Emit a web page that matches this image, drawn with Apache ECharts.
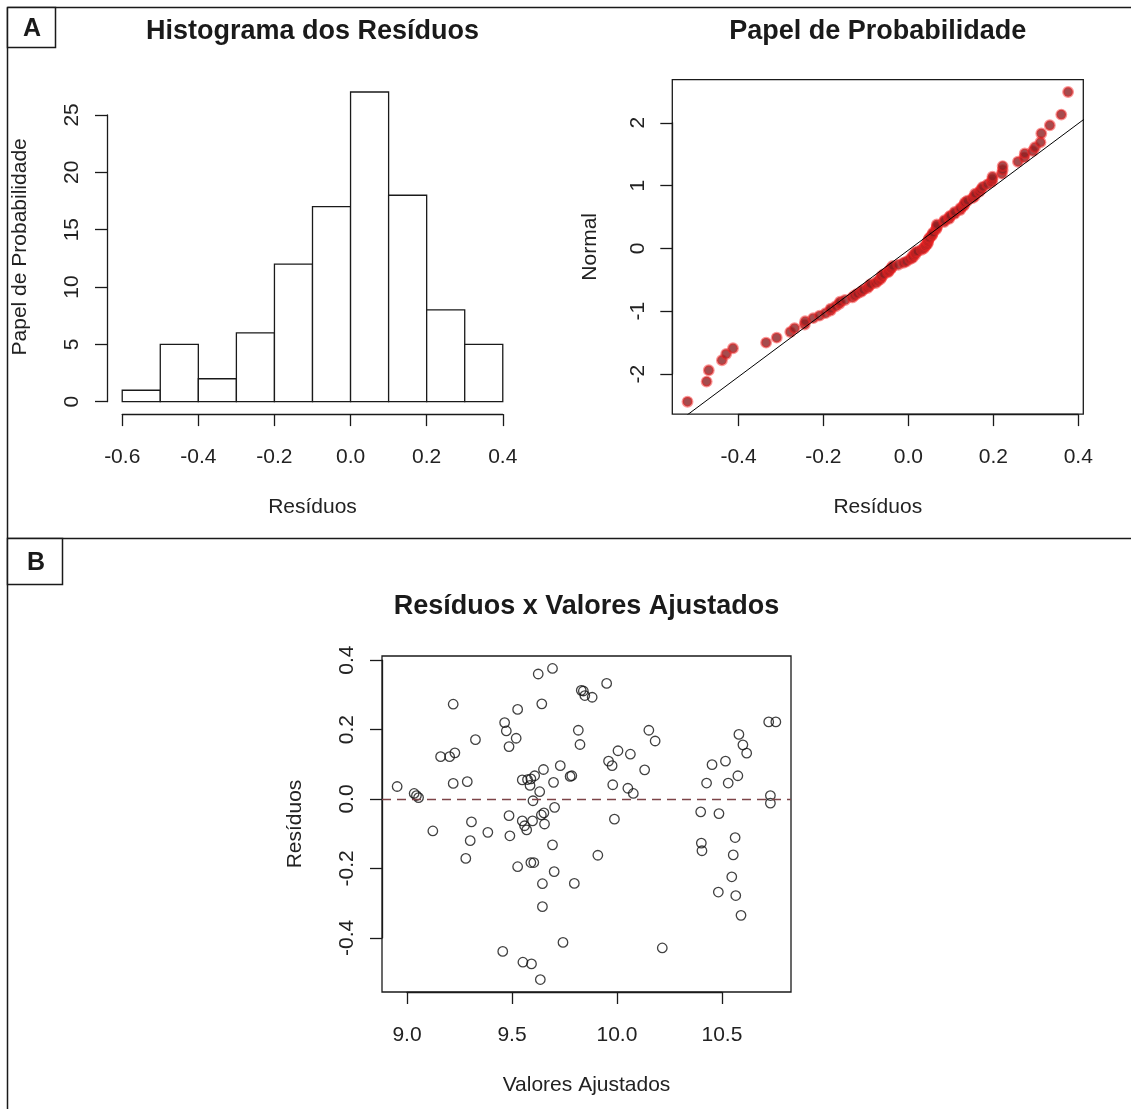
<!DOCTYPE html>
<html>
<head>
<meta charset="utf-8">
<title>Diagnóstico dos Resíduos</title>
<script src="https://cdn.jsdelivr.net/npm/echarts@6/dist/echarts.min.js"></script>
<style>
  html, body { margin: 0; padding: 0; background: #ffffff; }
  #chart { width: 1131px; height: 1109px; }
</style>
</head>
<body>
<div id="chart"></div>
<script>
// ---------------- data ----------------
// Histogram of residuals: bin edges and counts
const histBreaks = [-0.6, -0.5, -0.4, -0.3, -0.2, -0.1, 0.0, 0.1, 0.2, 0.3, 0.4];
const histCounts = [1, 5, 2, 6, 12, 17, 27, 18, 8, 5];

// Fitted values and residuals of the model (one pair per observation)
const fittedValues = [
  8.953, 9.034, 9.045, 9.055, 9.123, 9.160, 9.203, 9.228, 9.220, 9.220,
  9.287, 9.307, 9.301, 9.280, 9.326, 9.385, 9.456, 9.465, 9.473, 9.486,
  9.486, 9.490, 9.520, 9.527, 9.527, 9.549, 9.574, 9.586, 9.600, 9.552,
  9.593, 9.590, 9.604, 9.590, 9.608, 9.625, 9.632, 9.635, 9.642, 9.645,
  9.645, 9.650, 9.693, 9.693, 9.698, 9.701, 9.703, 9.730, 9.743, 9.777,
  9.785, 9.797, 9.816, 9.824, 9.830, 9.840, 9.847, 9.882, 9.909, 9.951,
  9.960, 9.977, 9.980, 9.988, 10.005, 10.052, 10.064, 10.078, 10.132, 10.152,
  10.182, 10.216, 10.399, 10.402, 10.405, 10.427, 10.453, 10.483, 10.486, 10.517,
  10.530, 10.547, 10.554, 10.563, 10.566, 10.576, 10.581, 10.591, 10.600, 10.618,
  10.723, 10.757, 10.731, 10.731, 9.549, 9.560, 9.570, 9.598, 9.640, 9.652,
  9.655
];
const residuals = [
  0.036, 0.016, 0.010, 0.004, -0.092, 0.122, 0.122, 0.133, 0.273, 0.045,
  0.050, -0.066, -0.120, -0.171, 0.171, -0.096, -0.439, 0.220, 0.196, 0.151,
  -0.048, -0.106, 0.175, 0.258, -0.195, 0.055, 0.056, 0.039, -0.005, -0.470,
  -0.475, -0.183, -0.183, 0.058, 0.067, 0.360, 0.021, -0.520, 0.274, -0.244,
  -0.310, 0.085, 0.376, -0.132, 0.048, -0.209, -0.024, 0.096, -0.413, 0.065,
  0.067, -0.243, 0.198, 0.157, 0.313, 0.311, 0.298, 0.293, -0.162, 0.333,
  0.109, 0.096, 0.041, -0.058, 0.139, 0.031, 0.129, 0.016, 0.084, 0.198,
  0.167, -0.429, -0.037, -0.127, -0.149, 0.046, 0.099, -0.268, -0.042, 0.109,
  0.046, -0.224, -0.161, -0.111, -0.278, 0.067, 0.186, -0.335, 0.156, 0.132,
  0.222, 0.222, 0.010, -0.012, -0.063, -0.077, -0.089, -0.063, -0.046, -0.040,
  -0.072
];

// Normal scores paired with the residuals in increasing order (normal probability plot)
const normalScores = [
  -2.44, -2.12, -1.94, -1.78, -1.68, -1.59, -1.50, -1.42, -1.33, -1.27,
  -1.21, -1.16, -1.11, -1.07, -1.03, -0.99, -0.96, -0.92, -0.88, -0.85,
  -0.82, -0.78, -0.75, -0.72, -0.69, -0.66, -0.63, -0.60, -0.57, -0.55,
  -0.52, -0.49, -0.46, -0.44, -0.41, -0.38, -0.36, -0.33, -0.31, -0.28,
  -0.26, -0.23, -0.21,
  -0.17, -0.15, -0.12, -0.10, -0.07, -0.05, -0.02, 0.00, 0.03, 0.05,
  0.07, 0.10, 0.12, 0.15, 0.17, 0.20, 0.22, 0.25, 0.30, 0.33,
  0.35, 0.38, 0.42, 0.45, 0.47, 0.50, 0.52, 0.55, 0.58, 0.61,
  0.64, 0.67, 0.70, 0.73, 0.76, 0.80, 0.83, 0.87, 0.90, 0.94,
  0.98, 1.02, 1.06, 1.10, 1.14, 1.19, 1.25, 1.31, 1.38, 1.45,
  1.51, 1.55, 1.61, 1.69, 1.83, 1.96, 2.13, 2.49
];

// Reference line of the normal plot (two end points, clipped to the plot box)
const qqLineX = [-0.60, 0.45];
const qqLineY = [-3.05, 2.24];

// Axis ticks and their labels
const histXTicks = [-0.6, -0.4, -0.2, 0.0, 0.2, 0.4];
const histXLabels = ['-0.6', '-0.4', '-0.2', '0.0', '0.2', '0.4'];
const histYTicks = [0, 5, 10, 15, 20, 25];
const histYLabels = ['0', '5', '10', '15', '20', '25'];
const qqXTicks = [-0.4, -0.2, 0.0, 0.2, 0.4];
const qqXLabels = ['-0.4', '-0.2', '0.0', '0.2', '0.4'];
const qqYTicks = [-2, -1, 0, 1, 2];
const qqYLabels = ['-2', '-1', '0', '1', '2'];
const fitXTicks = [9.0, 9.5, 10.0, 10.5];
const fitXLabels = ['9.0', '9.5', '10.0', '10.5'];
const fitYTicks = [-0.4, -0.2, 0.0, 0.2, 0.4];
const fitYLabels = ['-0.4', '-0.2', '0.0', '0.2', '0.4'];

// ---------------- layout & style ----------------
const FONT = '"Liberation Sans", Arial, Helvetica, sans-serif';
const INK = '#1a1a1a';
const TXT = '#222222';
const AXIS_FS = 21;
const TITLE_FS = 27;

const rectHist = { left: 107, top: 79.6, width: 411, height: 334.5 };
const rectQQ   = { left: 672.3, top: 79.6, width: 411, height: 334.5 };
const rectFit  = { left: 382, top: 656, width: 409, height: 336 };

// Default R-style axis range: data range widened by 4% on each side
function rRange(vals) {
  const lo = Math.min(...vals), hi = Math.max(...vals);
  const d = (hi - lo) * 0.04;
  return [lo - d, hi + d];
}
function xPx(rect, r, v) { return rect.left + (v - r[0]) / (r[1] - r[0]) * rect.width; }
function yPx(rect, r, v) { return rect.top + rect.height - (v - r[0]) / (r[1] - r[0]) * rect.height; }
function tickFormatter(ticks, labels) {
  return function (v) {
    let best = 0;
    for (let i = 1; i < ticks.length; i++) {
      if (Math.abs(ticks[i] - v) < Math.abs(ticks[best] - v)) best = i;
    }
    return labels[best];
  };
}

const option = {
  animation: false,
  backgroundColor: '#ffffff',
  grid: [], xAxis: [], yAxis: [], series: [], graphic: []
};

const hiddenAxis = (g) => ({ gridIndex: g, type: 'value', show: false, min: 0, max: 1 });
const nameStyle = { fontFamily: FONT, fontSize: AXIS_FS, color: TXT };
const tickLine = { show: true, lineStyle: { color: INK, width: 1.3 } };

// Adds a plot region plus R-style axes (axis line only from first to last tick).
function addPanel(rect, xr, yr, xt, xl, yt, yl, xName, yName, yNameGap, box) {
  const g = option.grid.length;
  option.grid.push({
    left: rect.left, top: rect.top, width: rect.width, height: rect.height,
    show: box, borderColor: INK, borderWidth: 1.3, backgroundColor: 'transparent',
    containLabel: false, outerBoundsMode: 'none'
  });
  option.xAxis.push({
    gridIndex: g, type: 'value', min: xr[0], max: xr[1],
    axisLine: { show: false }, axisTick: { show: false }, axisLabel: { show: false },
    splitLine: { show: false },
    name: xName, nameLocation: 'middle', nameGap: 83, nameTextStyle: nameStyle
  });
  option.yAxis.push({
    gridIndex: g, type: 'value', min: yr[0], max: yr[1],
    axisLine: { show: false }, axisTick: { show: false }, axisLabel: { show: false },
    splitLine: { show: false },
    name: yName, nameLocation: 'middle', nameGap: yNameGap, nameRotate: 90, nameTextStyle: nameStyle
  });

  // x axis with ticks
  const x0 = xPx(rect, xr, xt[0]), x1 = xPx(rect, xr, xt[xt.length - 1]);
  option.grid.push({
    left: x0, width: x1 - x0, top: rect.top, height: rect.height,
    show: false, containLabel: false, outerBoundsMode: 'none'
  });
  option.xAxis.push({
    gridIndex: g + 1, type: 'value', position: 'bottom',
    min: xt[0], max: xt[xt.length - 1], interval: Number((xt[1] - xt[0]).toFixed(10)),
    axisLine: tickLine, axisTick: { show: true, length: 12, lineStyle: { color: INK, width: 1.3 } },
    axisLabel: {
      show: true, margin: 33, fontFamily: FONT, fontSize: AXIS_FS, color: TXT,
      showMinLabel: true, showMaxLabel: true, hideOverlap: false,
      formatter: tickFormatter(xt, xl)
    },
    splitLine: { show: false }
  });
  option.yAxis.push(hiddenAxis(g + 1));

  // y axis with ticks
  const y1 = yPx(rect, yr, yt[yt.length - 1]), y0 = yPx(rect, yr, yt[0]);
  option.grid.push({
    left: rect.left, width: rect.width, top: y1, height: y0 - y1,
    show: false, containLabel: false, outerBoundsMode: 'none'
  });
  option.xAxis.push(hiddenAxis(g + 2));
  option.yAxis.push({
    gridIndex: g + 2, type: 'value', position: 'left',
    min: yt[0], max: yt[yt.length - 1], interval: Number((yt[1] - yt[0]).toFixed(10)),
    axisLine: tickLine, axisTick: { show: true, length: 12, lineStyle: { color: INK, width: 1.3 } },
    axisLabel: {
      show: true, margin: 24, rotate: 90, fontFamily: FONT, fontSize: AXIS_FS, color: TXT,
      showMinLabel: true, showMaxLabel: true, hideOverlap: false,
      formatter: tickFormatter(yt, yl)
    },
    splitLine: { show: false }
  });
  return g;
}

// ---------- Panel A, left: histogram ----------
const histXR = rRange(histBreaks);
const histYR = rRange([0].concat(histCounts));
const gHist = addPanel(rectHist, histXR, histYR, histXTicks, histXLabels, histYTicks, histYLabels,
  'Resíduos', 'Papel de Probabilidade', 76, false);
option.series.push({
  type: 'custom', xAxisIndex: gHist, yAxisIndex: gHist,
  data: histCounts.map((c, i) => [histBreaks[i], histBreaks[i + 1], c]),
  encode: { x: [0, 1], y: 2 },
  renderItem: function (params, api) {
    const p0 = api.coord([api.value(0), api.value(2)]);
    const p1 = api.coord([api.value(1), 0]);
    return {
      type: 'rect',
      shape: { x: p0[0], y: p0[1], width: p1[0] - p0[0], height: p1[1] - p0[1] },
      style: { fill: '#ffffff', stroke: INK, lineWidth: 1.3 }
    };
  }
});

// ---------- Panel A, right: normal probability plot ----------
const qqX = residuals.slice().sort((a, b) => a - b);
const qqXR = rRange(residuals);
const qqYR = rRange(normalScores);
const gQQ = addPanel(rectQQ, qqXR, qqYR, qqXTicks, qqXLabels, qqYTicks, qqYLabels,
  'Resíduos', 'Normal', 72, true);
option.series.push({
  type: 'scatter', xAxisIndex: gQQ, yAxisIndex: gQQ,
  symbol: 'circle', symbolSize: 9.5, clip: true,
  itemStyle: { color: '#8e1f22', borderColor: 'rgba(245,35,35,0.6)', borderWidth: 2.4 },
  data: qqX.map((x, i) => [x, normalScores[i]]),
  z: 2
});
option.series.push({
  type: 'line', xAxisIndex: gQQ, yAxisIndex: gQQ, clip: true,
  symbol: 'none', lineStyle: { color: '#000000', width: 1 },
  data: qqLineX.map((x, i) => [x, qqLineY[i]]),
  z: 3
});

// ---------- Panel B: residuals vs fitted ----------
const fitXR = rRange(fittedValues);
const fitYR = rRange(residuals);
const gFit = addPanel(rectFit, fitXR, fitYR, fitXTicks, fitXLabels, fitYTicks, fitYLabels,
  'Valores Ajustados', 'Resíduos', 76, true);
option.series.push({
  type: 'scatter', xAxisIndex: gFit, yAxisIndex: gFit,
  symbol: 'circle', symbolSize: 9.5,
  itemStyle: { color: 'rgba(0,0,0,0)', borderColor: '#111111', borderWidth: 1.3 },
  data: fittedValues.map((f, i) => [f, residuals[i]]),
  markLine: {
    silent: true, symbol: ['none', 'none'], label: { show: false },
    lineStyle: { color: '#7d4448', width: 1.3, type: [9, 6] },
    data: [{ yAxis: 0 }]
  }
});

// ---------- titles, panel tags and frame ----------
function label(x, y, text, size, weight) {
  return {
    type: 'text', x: x, y: y, silent: true,
    style: {
      text: text, fill: INK, fontFamily: FONT, fontSize: size, fontWeight: weight,
      align: 'center', verticalAlign: 'middle', textAlign: 'center', textVerticalAlign: 'middle'
    }
  };
}
const frame = { stroke: INK, lineWidth: 1.5 };
option.graphic = [
  { type: 'line', silent: true, shape: { x1: 7.5, y1: 7.5, x2: 1131, y2: 7.5 }, style: frame },
  { type: 'line', silent: true, shape: { x1: 7.5, y1: 7.5, x2: 7.5, y2: 1109 }, style: frame },
  { type: 'line', silent: true, shape: { x1: 7.5, y1: 538.5, x2: 1131, y2: 538.5 }, style: frame },
  { type: 'rect', silent: true, shape: { x: 7.5, y: 7.5, width: 48, height: 40 },
    style: { fill: '#ffffff', stroke: INK, lineWidth: 1.5 } },
  { type: 'rect', silent: true, shape: { x: 7.5, y: 538.5, width: 55, height: 46 },
    style: { fill: '#ffffff', stroke: INK, lineWidth: 1.5 } },
  label(32, 29, 'A', 25, 'bold'),
  label(36, 563, 'B', 25, 'bold'),
  label(xPx(rectHist, [0, 1], 0.5), 31.5, 'Histograma dos Resíduos', TITLE_FS, 'bold'),
  label(xPx(rectQQ, [0, 1], 0.5), 31.5, 'Papel de Probabilidade', TITLE_FS, 'bold'),
  label(xPx(rectFit, [0, 1], 0.5), 607, 'Resíduos x Valores Ajustados', TITLE_FS, 'bold')
];

const chart = echarts.init(document.getElementById('chart'), null, { renderer: 'canvas' });
chart.setOption(option);
</script>
</body>
</html>
